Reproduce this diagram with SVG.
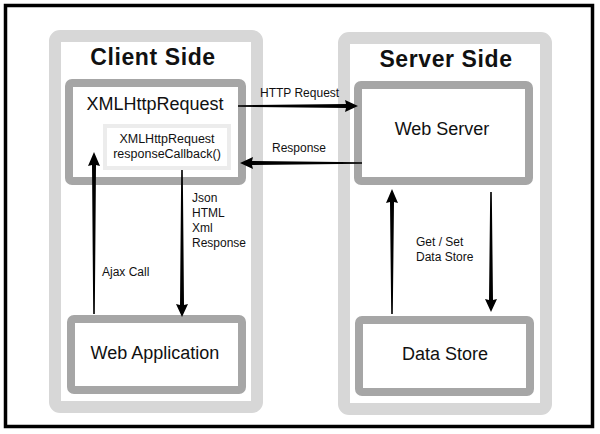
<svg xmlns="http://www.w3.org/2000/svg" width="600" height="434" viewBox="0 0 600 434">
<style>
text{font-family:"Liberation Sans",Arial,sans-serif;fill:#111}
.title{font-size:23px;font-weight:bold;letter-spacing:0.6px;text-anchor:middle}
.big{font-size:18px;text-anchor:middle}
.mid{font-size:12.5px;text-anchor:middle}
.lbl{font-size:12px}
.panel{fill:#fff;stroke:#d7d7d7;stroke-width:12}
.box{fill:#fff;stroke:#a6a6a6;stroke-width:8}
.inner{fill:#fff;stroke:#ececec;stroke-width:4}
.arrow{fill:#000}
</style>
<rect x="0" y="0" width="600" height="434" fill="#fff"/>
<rect x="5.5" y="5.5" width="587" height="421" fill="#fff" stroke="#000" stroke-width="3.5"/>
<g id="client-side">
<rect class="panel" x="55" y="36" width="202" height="371" rx="5"/>
<text class="title" x="153" y="65">Client Side</text>
</g>
<g id="server-side">
<rect class="panel" x="344" y="38" width="202" height="371" rx="5"/>
<text class="title" x="446" y="67">Server Side</text>
</g>
<g id="xmlhttprequest">
<rect class="box" x="69" y="83" width="173" height="98" rx="3"/>
<text class="big" x="155" y="110">XMLHttpRequest</text>
</g>
<g id="callback">
<rect class="inner" x="105" y="126" width="124" height="42"/>
<text class="mid" x="167" y="143">XMLHttpRequest</text>
<text class="mid" x="167" y="158">responseCallback()</text>
</g>
<g id="web-server">
<rect class="box" x="358" y="85" width="171" height="96" rx="3"/>
<text class="big" x="442" y="135">Web Server</text>
</g>
<g id="web-application">
<rect class="box" x="71" y="319" width="171" height="71" rx="3"/>
<text class="big" x="155" y="359">Web Application</text>
</g>
<g id="data-store">
<rect class="box" x="359" y="320" width="171" height="72" rx="3"/>
<text class="big" x="445" y="360">Data Store</text>
</g>
<g id="connectors">
<path class="arrow" d="M238,105.2 L346,104 L345,100 L358,106 L345,112 L346,108 L238,106.8 Z"/>
<text class="lbl" x="260" y="97">HTTP Request</text>
<path class="arrow" d="M362,162.2 L252,161 L253,157 L240,163 L253,169 L252,165 L362,163.8 Z"/>
<text class="lbl" x="272" y="152">Response</text>
<path class="arrow" d="M93.2,314 L92,165 L88,166 L94,152 L100,166 L96,165 L94.8,314 Z"/>
<text class="lbl" x="102" y="276">Ajax Call</text>
<path class="arrow" d="M181.2,170 L180,305 L176,304 L182,317 L188,304 L184,305 L182.8,170 Z"/>
<text class="lbl" x="192" y="202">Json</text>
<text class="lbl" x="192" y="217">HTML</text>
<text class="lbl" x="192" y="232">Xml</text>
<text class="lbl" x="192" y="247">Response</text>
<path class="arrow" d="M391.2,314 L390,202 L386,203 L392,189 L398,203 L394,202 L392.8,314 Z"/>
<path class="arrow" d="M490.2,192 L489,300 L485,299 L491,312 L497,299 L493,300 L491.8,192 Z"/>
<text class="lbl" x="416" y="246">Get / Set</text>
<text class="lbl" x="416" y="261">Data Store</text>
</g>
</svg>
